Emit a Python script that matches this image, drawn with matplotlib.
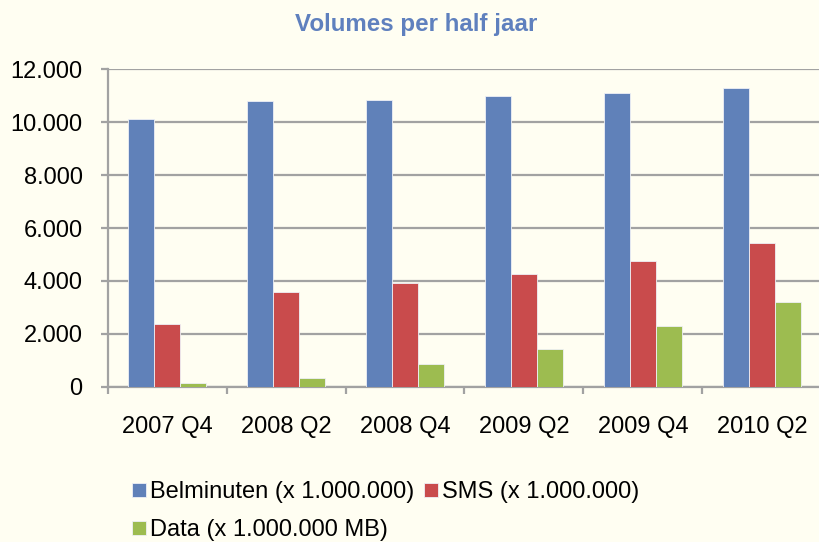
#!/usr/bin/env python3

"""Volumes per half jaar: belminuten, SMS en data."""

import matplotlib.pyplot as plt
import numpy as np
from matplotlib.ticker import FuncFormatter

plt.rcParams["font.family"] = ["Liberation Sans", "DejaVu Sans"]

periods = ["2007 Q4", "2008 Q2", "2008 Q4", "2009 Q2", "2009 Q4", "2010 Q2"]
belminuten = [10130, 10820, 10850, 11000, 11110, 11290]
sms = [2370, 3570, 3910, 4265, 4745, 5425]
data_mb = [130, 330, 870, 1430, 2310, 3190]

labels = ["Belminuten (x 1.000.000)", "SMS (x 1.000.000)", "Data (x 1.000.000 MB)"]
colors = ["#6081B9", "#C94B4C", "#9DBC50"]
bg = "#FFFEF2"
grid_col = "#A2A2A2"

fig = plt.figure(figsize=(8.19, 5.42), dpi=100, facecolor=bg)
ax = fig.add_axes([0.1315, 0.2865, 0.8713, 0.5853])
ax.set_facecolor(bg)

x = np.arange(len(periods))
w = 0.22
bars = []
for i, (vals, lab, col) in enumerate(zip([belminuten, sms, data_mb], labels, colors)):
    bars.append(ax.bar(x + (i - 1) * w, vals, w, color=col, label=lab,
                       edgecolor="#EEF0F6", linewidth=0.6, zorder=3))

ax.set_xlim(-0.5, len(periods) - 0.5)
ax.set_ylim(0, 12000)
ax.set_yticks(range(0, 12001, 2000))
ax.yaxis.set_major_formatter(FuncFormatter(lambda v, p: f"{int(v):,}".replace(",", ".")))
ax.yaxis.grid(True, color=grid_col, linewidth=1.6, zorder=0)

ax.set_xticks(np.arange(len(periods) + 1) - 0.5)
ax.set_xticklabels([])
ax.set_xticks(x, minor=True)
ax.set_xticklabels(periods, minor=True)
ax.tick_params(axis="x", which="minor", length=0, pad=21, labelsize=17)
ax.tick_params(axis="x", which="major", length=5, width=1.6, color=grid_col)
ax.tick_params(axis="y", length=5, width=1.6, color=grid_col, pad=13, labelsize=17)

for s in ["top", "right"]:
    ax.spines[s].set_visible(False)
for s in ["left", "bottom"]:
    ax.spines[s].set_color(grid_col)
    ax.spines[s].set_linewidth(1.6)

fig.text(0.508, 0.955, "Volumes per half jaar", ha="center", va="center",
         fontsize=17.4, fontweight="bold", color="#5F80BE")

# matplotlib fills legend columns first: reorder so row 1 = Belminuten, SMS
order = [0, 2, 1]
fig.legend([bars[k] for k in order], [labels[k] for k in order],
           loc="upper left", bbox_to_anchor=(0.1615, 0.112), ncol=2, frameon=False,
           fontsize=17, handlelength=0.59, handleheight=0.59, handletextpad=0.17,
           columnspacing=0.42, labelspacing=0.68, borderpad=0, borderaxespad=0)

plt.savefig("out.png", dpi=100, facecolor=bg)
